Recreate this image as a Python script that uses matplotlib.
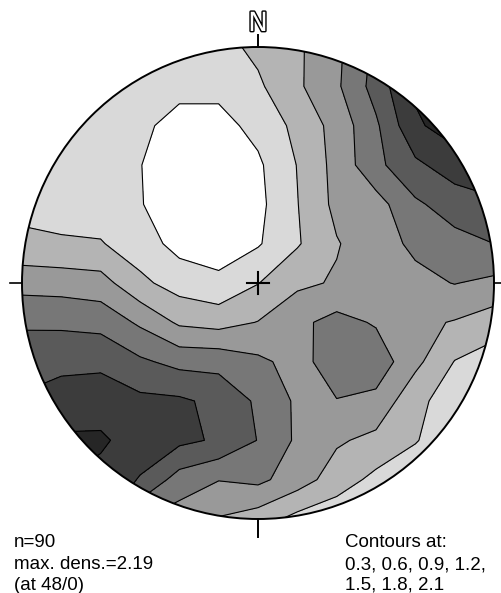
import numpy as np
import matplotlib
matplotlib.use('Agg')
import matplotlib.pyplot as plt
from matplotlib.patches import Circle
import matplotlib.patheffects as pe

plt.rcParams['font.family'] = ['Liberation Sans', 'DejaVu Sans']

# density grid read off the net: rows north -> south, columns west -> east,
# on a 13 x 13 grid spanning the unit circle (points outside are extrapolated)
grid_x = np.linspace(-1, 1, 13)
grid_y = np.linspace(1, -1, 13)
density = np.array([
    [0.45, 0.45, 0.45, 0.45, 0.45, 0.50, 0.67, 0.85, 1.13, 1.57, 1.85, 2.00, 2.00],
    [0.45, 0.45, 0.45, 0.40, 0.38, 0.38, 0.55, 0.85, 1.15, 1.62, 2.15, 2.20, 2.20],
    [0.45, 0.45, 0.45, 0.36, 0.20, 0.20, 0.39, 0.68, 1.01, 1.45, 2.05, 2.25, 2.20],
    [0.50, 0.50, 0.45, 0.31, 0.10, 0.10, 0.25, 0.61, 1.00, 1.42, 1.74, 1.95, 2.00],
    [0.50, 0.50, 0.45, 0.32, 0.10, 0.10, 0.22, 0.59, 0.98, 1.08, 1.45, 1.64, 1.75],
    [0.68, 0.63, 0.62, 0.44, 0.20, 0.15, 0.27, 0.57, 0.88, 1.07, 1.26, 1.40, 1.50],
    [1.08, 1.07, 1.02, 0.67, 0.47, 0.37, 0.59, 0.84, 0.93, 1.05, 1.12, 1.21, 1.13],
    [1.47, 1.44, 1.40, 1.15, 0.85, 0.79, 0.91, 1.13, 1.30, 1.17, 0.97, 0.88, 0.74],
    [1.62, 1.73, 1.74, 1.55, 1.41, 1.40, 1.26, 1.10, 1.35, 1.38, 0.98, 0.59, 0.45],
    [1.85, 1.92, 1.95, 1.87, 1.85, 1.72, 1.45, 1.15, 1.19, 1.12, 0.68, 0.45, 0.40],
    [2.00, 2.15, 2.15, 1.95, 1.87, 1.76, 1.49, 1.15, 0.94, 0.82, 0.62, 0.40, 0.40],
    [2.00, 2.10, 2.00, 1.78, 1.37, 1.21, 1.27, 1.05, 0.75, 0.52, 0.40, 0.40, 0.40],
    [2.00, 2.00, 1.90, 1.22, 1.05, 0.88, 0.75, 0.50, 0.40, 0.40, 0.40, 0.40, 0.40],
])

levels = [0.3, 0.6, 0.9, 1.2, 1.5, 1.8, 2.1]
fill_colors = ['#ffffff', '#d9d9d9', '#b4b4b4', '#999999',
               '#777777', '#5a5a5a', '#3c3c3c', '#262626']

n_points = 90
max_dens = 2.19
max_at = '48/0'

# --- figure: one axes filling the canvas, circle radius = 236 px ---
W, H = 501, 593
cx, cy, R = 258, 283, 236
fig = plt.figure(figsize=(W / 100, H / 100), dpi=100)
ax = fig.add_axes([0, 0, 1, 1])
ax.set_xlim(-cx / R, (W - cx) / R)
ax.set_ylim(-(H - cy) / R, cy / R)
ax.set_aspect('equal')
ax.axis('off')

X, Y = np.meshgrid(grid_x, grid_y)
bounds = [0] + levels + [3]
cf = ax.contourf(X, Y, density, levels=bounds, colors=fill_colors)
cl = ax.contour(X, Y, density, levels=levels, colors='k', linewidths=0.8)
clip = Circle((0, 0), 1, transform=ax.transData)
cf.set_clip_path(clip)
cl.set_clip_path(clip)

ax.add_patch(Circle((0, 0), 1, fill=False, lw=1.4, ec='k', zorder=5))

# ticks at N, E, S, W and centre cross
t = 12 / R
ax.plot([0, 0], [1, 1 + t], color='k', lw=1.4)
ax.plot([0, 0], [-1, -1 - 1.5 * t], color='k', lw=1.4)
ax.plot([-1, -1 - t], [0, 0], color='k', lw=1.2)
ax.plot([1, 1 + t], [0, 0], color='k', lw=1.2)
c = 11 / R
ax.plot([-c, c], [0, 0], color='k', lw=1.5, zorder=6)
ax.plot([0, 0], [-c, c], color='k', lw=1.5, zorder=6)

fig.text(cx / W, 1 - 24 / H, 'N', ha='center', va='center', fontsize=19,
         family='DejaVu Sans', color='white',
         path_effects=[pe.withStroke(linewidth=2, foreground='k')])

left_lines = ['n=%d' % n_points, 'max. dens.=%.2f' % max_dens, '(at %s)' % max_at]
right_lines = ['Contours at:', ', '.join(str(v) for v in levels[:4]) + ',',
               ', '.join(str(v) for v in levels[4:])]
baselines = [547, 569, 590]
for txt, yb in zip(left_lines, baselines):
    fig.text(14 / W, 1 - yb / H, txt, ha='left', va='baseline', fontsize=13.5)
for txt, yb in zip(right_lines, baselines):
    fig.text(345 / W, 1 - yb / H, txt, ha='left', va='baseline', fontsize=13.5)

plt.savefig('out.png', dpi=100)
